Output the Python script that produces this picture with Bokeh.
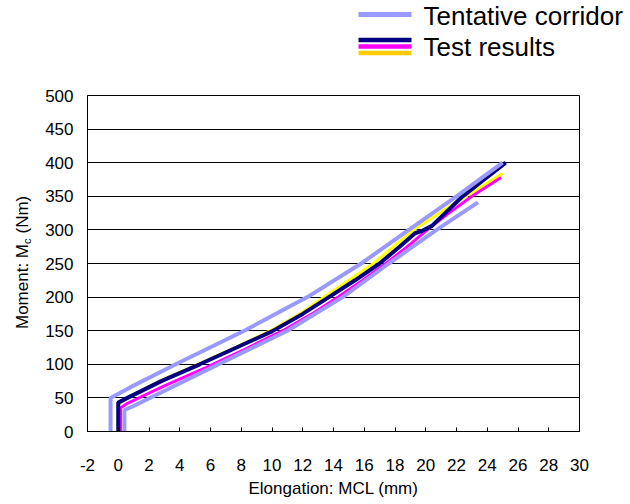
import math
from bokeh.plotting import figure
from bokeh.layouts import column, row
from bokeh.models import Range1d, FixedTicker
from bokeh.core.properties import value
from bokeh.embed import file_html
from bokeh.resources import INLINE

# ---- data ----
upper_x = [-0.5, -0.5, 0.8, 4.0, 8.2, 12.3, 15.8, 18.9, 22.0, 25.0]
upper_y = [0, 50, 66, 103, 150, 200, 250, 300, 350, 400]

lower_x = [0.4, 0.4, 1.0, 6.6, 11.0, 14.6, 17.6, 20.7, 23.4]
lower_y = [0, 32, 38, 101, 150, 200, 250, 300, 341]

navy_x = [0, 0, 0.6, 2.8, 5.3, 7.7, 10.0, 12.0, 13.7, 15.4, 17.0, 18.3, 19.3, 19.8, 20.4, 21.4, 22.4, 23.8, 25.2]
navy_y = [0, 43, 50, 75, 100, 125, 149, 175, 200, 225, 250, 275, 295, 299, 306, 328, 350, 375, 400]

yellow_x = [0, 0, 0.5, 2.7, 5.2, 7.6, 9.9, 11.8, 13.4, 15.0, 16.6, 17.9, 19.2, 20.9, 22.6, 25.0]
yellow_y = [0, 40, 48, 75, 100, 125, 150, 175, 200, 225, 250, 275, 300, 325, 350, 384]

magenta_x = [0.15, 0.15, 0.6, 3.0, 5.7, 8.2, 10.7, 12.6, 14.3, 15.9, 17.4, 18.8, 20.1, 21.5, 23.0, 24.9]
magenta_y = [0, 35, 42, 68, 95, 122, 150, 175, 200, 225, 250, 275, 300, 325, 350, 378]

x_ticks = [-2, 0, 2, 4, 6, 8, 10, 12, 14, 16, 18, 20, 22, 24, 26, 28, 30]
y_ticks = [0, 50, 100, 150, 200, 250, 300, 350, 400, 450, 500]

legend_labels = ["Tentative corridor", "Test results"]
y_title_parts = ["Moment: M", "c", "(Nm)"]

LAV = "#9999FF"
NAVY = "#000080"
MAG = "#FF00FF"
YEL = "#FFFF00"
FONT = "Liberation Sans"


def blank(width, height):
    f = figure(width=width, height=height, x_range=Range1d(0, width), y_range=Range1d(0, height),
               x_axis_type=None, y_axis_type=None, toolbar_location=None,
               output_backend="svg", min_border=0)
    f.outline_line_color = None
    f.xgrid.visible = False
    f.ygrid.visible = False
    f.frame_align = False
    return f


# ---- legend strip (top, 70 px tall; y measured upward from its bottom) ----
leg = blank(630, 70)
leg.segment(x0=[358], y0=[56], x1=[411], y1=[56], line_color=LAV, line_width=5)
leg.segment(x0=[358, 358, 358], y0=[30.5, 24, 17.5], x1=[411, 411, 411], y1=[30.5, 24, 17.5],
            line_color=[NAVY, MAG, "#FFCC00"], line_width=4.5)
leg.text(x=[423, 423], y=[55, 24], text=legend_labels, text_font=value(FONT),
         text_font_size="26px", text_baseline="middle", text_align="left", text_color="black")

# ---- y-axis title strip (left, 42 px wide) ----
YT_W = 42
yt = blank(YT_W, 434)
A = 504 - 243.5  # join point between "Moment: M" and subscript
yt.text(x=[22], y=[A], text=[y_title_parts[0]], angle=math.pi / 2, text_font=value(FONT),
        text_font_size="17px", text_baseline="middle", text_align="right", text_color="black")
yt.text(x=[26], y=[A], text=[y_title_parts[1]], angle=math.pi / 2, text_font=value(FONT),
        text_font_size="11px", text_baseline="middle", text_align="left", text_color="black")
yt.text(x=[22], y=[A + 10.5], text=[y_title_parts[2]], angle=math.pi / 2, text_font=value(FONT),
        text_font_size="17px", text_baseline="middle", text_align="left", text_color="black")

# ---- main chart ----
p = figure(width=630 - YT_W, height=434, x_range=Range1d(-2, 30), y_range=Range1d(0, 500),
           toolbar_location=None, output_backend="svg",
           min_border_left=87 - YT_W, min_border_right=51, min_border_top=25, min_border_bottom=73)
p.frame_align = False
p.outline_line_color = "black"
p.outline_line_width = 1
p.background_fill_color = "white"
p.border_fill_color = "white"

p.xgrid.visible = False
p.ygrid.ticker = FixedTicker(ticks=y_ticks)
p.ygrid.grid_line_color = "black"
p.ygrid.grid_line_width = 1

p.xaxis.ticker = FixedTicker(ticks=x_ticks)
p.yaxis.ticker = FixedTicker(ticks=y_ticks)
p.xaxis.major_label_overrides = {t: str(t) for t in x_ticks}
for ax in (p.xaxis, p.yaxis):
    ax.axis_line_color = "black"
    ax.major_tick_line_color = "black"
    ax.minor_tick_line_color = None
    ax.major_label_text_font = FONT
    ax.major_label_text_font_size = "17px"
    ax.major_label_text_color = "black"
    ax.axis_label_text_font = FONT
    ax.axis_label_text_font_size = "17px"
    ax.axis_label_text_font_style = "normal"
    ax.axis_label_text_color = "black"

p.xaxis.major_tick_in = 4
p.xaxis.major_tick_out = 0
p.xaxis.major_label_standoff = 27
p.xaxis.axis_label = "Elongation: MCL (mm)"
p.xaxis.axis_label_standoff = 5

p.yaxis.major_tick_in = 0
p.yaxis.major_tick_out = 0
p.yaxis.major_label_standoff = 14

# test results
p.line(yellow_x, yellow_y, line_color=YEL, line_width=3)
p.line(magenta_x, magenta_y, line_color=MAG, line_width=3)
p.line(navy_x, navy_y, line_color=NAVY, line_width=4)
# corridor
p.line(upper_x, upper_y, line_color=LAV, line_width=4)
p.line(lower_x, lower_y, line_color=LAV, line_width=4)

layout = column(leg, row(yt, p, spacing=0), spacing=0)
open("out.html", "w").write(file_html(layout, INLINE))
